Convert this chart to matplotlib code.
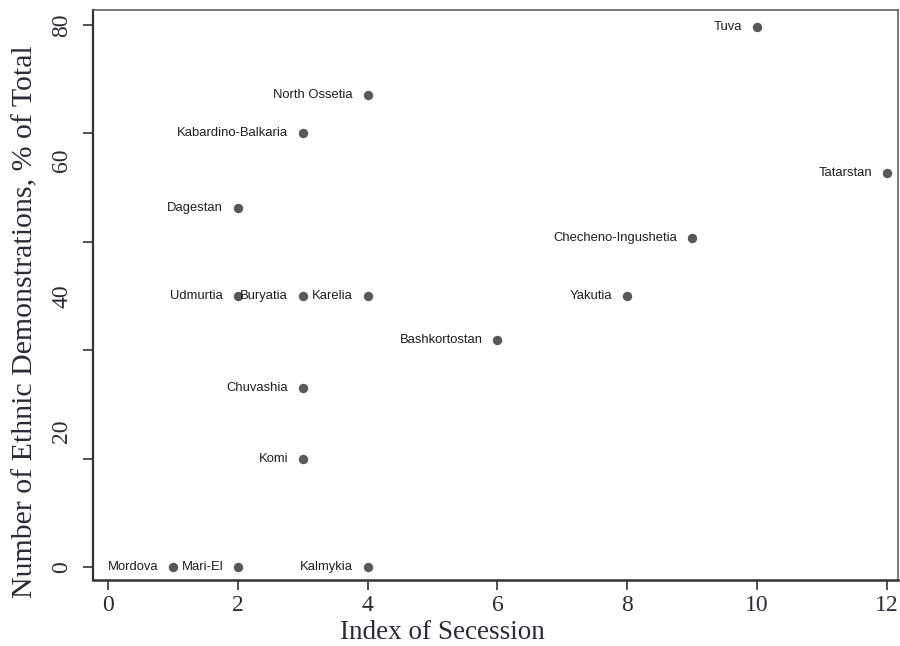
import matplotlib
matplotlib.use("Agg")
import matplotlib.pyplot as plt

# Republics, secession index and share of ethnic demonstrations
regions = ["Mordova", "Mari-El", "Kalmykia", "Komi", "Chuvashia", "Bashkortostan",
           "Udmurtia", "Buryatia", "Karelia", "Yakutia", "Checheno-Ingushetia",
           "Dagestan", "Tatarstan", "Kabardino-Balkaria", "North Ossetia", "Tuva"]
secession = [1, 2, 4, 3, 3, 6, 2, 3, 4, 8, 9, 2, 12, 3, 4, 10]
demonstrations = [0, 0, 0, 16, 26.5, 33.5, 40, 40, 40, 40, 48.6, 53, 58.2, 64, 69.7, 79.7]

x_ticks = [0, 2, 4, 6, 8, 10, 12]
y_tick_marks = [0, 16, 32, 48, 64, 80]
y_tick_labels = [0, 20, 40, 60, 80]

serif = "Liberation Serif"
ink = "#2b2b38"

fig = plt.figure(figsize=(9, 6.46), dpi=100)
ax = fig.add_axes([0.1033, 0.1022, 0.8945, 0.8823])

ax.scatter(secession, demonstrations, s=46, color="#585858", zorder=3, linewidths=0)
for name, xv, yv in zip(regions, secession, demonstrations):
    ax.annotate(name, (xv, yv), xytext=(-10.5, 0), textcoords="offset points",
                ha="right", va="center", fontsize=9.4, family="Liberation Sans",
                color="#1e1e1e", zorder=4)

ax.set_xlim(-0.23, 12.17)
ax.set_ylim(-1.9, 82.2)

ax.set_xticks(x_ticks)
ax.set_xticklabels([str(v) for v in x_ticks], family=serif, fontsize=17, color=ink)
ax.tick_params(axis="x", length=7, width=1.2, pad=4, color="#333333")

# tick marks every 16 units, numeric labels every 20 units
ax.yaxis.remove_overlapping_locs = False
ax.set_yticks(y_tick_marks)
ax.set_yticklabels([""] * len(y_tick_marks))
ax.tick_params(axis="y", which="major", length=7, width=1.2, color="#333333")
ax.set_yticks(y_tick_labels, minor=True)
ax.set_yticklabels([str(v) for v in y_tick_labels], minor=True, family=serif,
                   fontsize=17, color=ink, rotation=90, va="center")
ax.tick_params(axis="y", which="minor", length=0, pad=15)

ax.set_xlabel("Index of Secession", family=serif, fontsize=19.5, color=ink,
              va="center")
ax.set_ylabel("Number of Ethnic Demonstrations, % of Total", family=serif,
              fontsize=21.5, color=ink, va="center")
ax.xaxis.set_label_coords(0.434, -0.093)
ax.yaxis.set_label_coords(-0.0845, 0.4535)

for side, lw, col in [("left", 1.6, "#333333"), ("bottom", 1.8, "#333333"),
                      ("top", 1.1, "#555555"), ("right", 1.1, "#555555")]:
    ax.spines[side].set_linewidth(lw)
    ax.spines[side].set_color(col)

fig.savefig("out.png", dpi=100)
